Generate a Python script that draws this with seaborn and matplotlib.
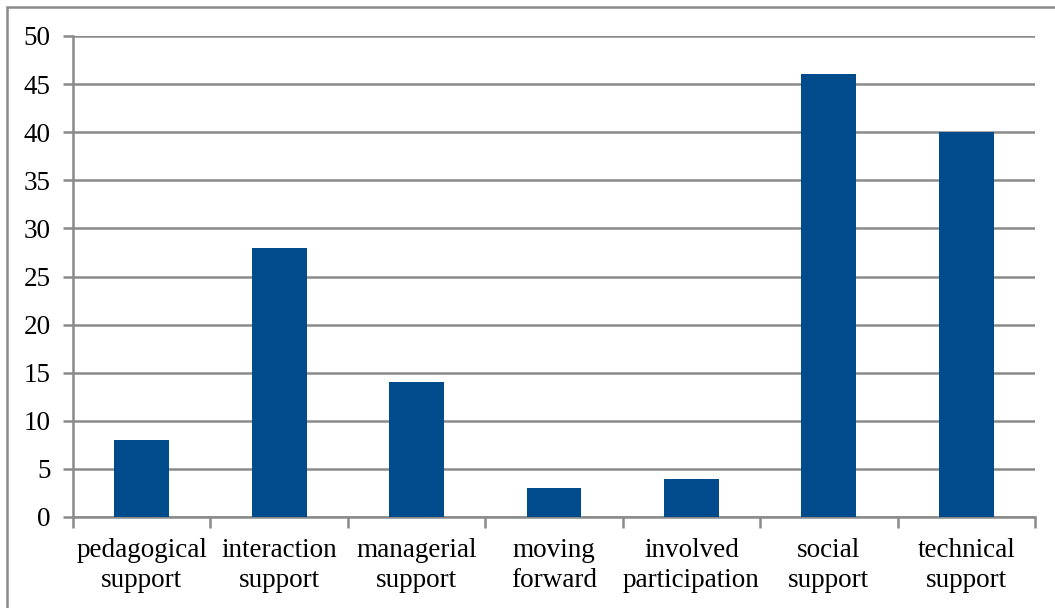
import matplotlib
matplotlib.use("Agg")
import matplotlib.pyplot as plt
import seaborn as sns
import pandas as pd
import numpy as np
from matplotlib.patches import Rectangle

categories = ["pedagogical\nsupport", "interaction\nsupport", "managerial\nsupport",
              "moving\nforward", "involved\nparticipation", "social\nsupport", "technical\nsupport"]
values = [8, 28, 14, 3, 4, 46, 40]
yticks = [0, 5, 10, 15, 20, 25, 30, 35, 40, 45, 50]

sns.set_theme(style="white")
plt.rcParams['font.family'] = ['Liberation Serif', 'DejaVu Serif']

df = pd.DataFrame({"cat": categories, "val": values})

fig = plt.figure(figsize=(10.55, 6.08), dpi=100)
ax = fig.add_axes([73/1055, 1-517/608, (1035-73)/1055, (517-36)/608])
sns.barplot(data=df, x="cat", y="val", color="#004B8B", width=0.4, saturation=1,
            linewidth=0, ax=ax, zorder=3)

gray = "#8a8a8a"
fs = 19.5
ax.set_ylim(0, 50)
ax.set_xlim(-0.5, len(categories) - 0.5)
ax.set_yticks(yticks)
ax.set_yticklabels([str(t) for t in yticks], fontsize=fs, color="black")
ax.yaxis.grid(True, color=gray, linewidth=1.8, zorder=0)
ax.set_axisbelow(True)
ax.tick_params(axis="y", direction="out", length=7, width=1.8, color=gray, pad=9, left=True)
ax.set_xticks(range(len(categories)))
ax.set_xticklabels(categories, fontsize=fs, color="black", linespacing=1.25)
ax.tick_params(axis="x", which="major", length=0, pad=15)
ax.set_xticks(np.arange(-0.5, len(categories), 1), minor=True)
ax.tick_params(axis="x", which="minor", direction="out", length=8, width=1.8, color=gray, bottom=True)
ax.set_xlabel("")
ax.set_ylabel("")
for s in ["top", "right"]:
    ax.spines[s].set_visible(False)
for s in ["left", "bottom"]:
    ax.spines[s].set_color(gray)
    ax.spines[s].set_linewidth(1.8)

fig.patches.append(Rectangle((6.5/1055, -0.01), 1.1, 1 - 6.5/608 + 0.01, transform=fig.transFigure,
                             fill=False, edgecolor=gray, linewidth=1.8))

fig.savefig("out.png", dpi=100)
